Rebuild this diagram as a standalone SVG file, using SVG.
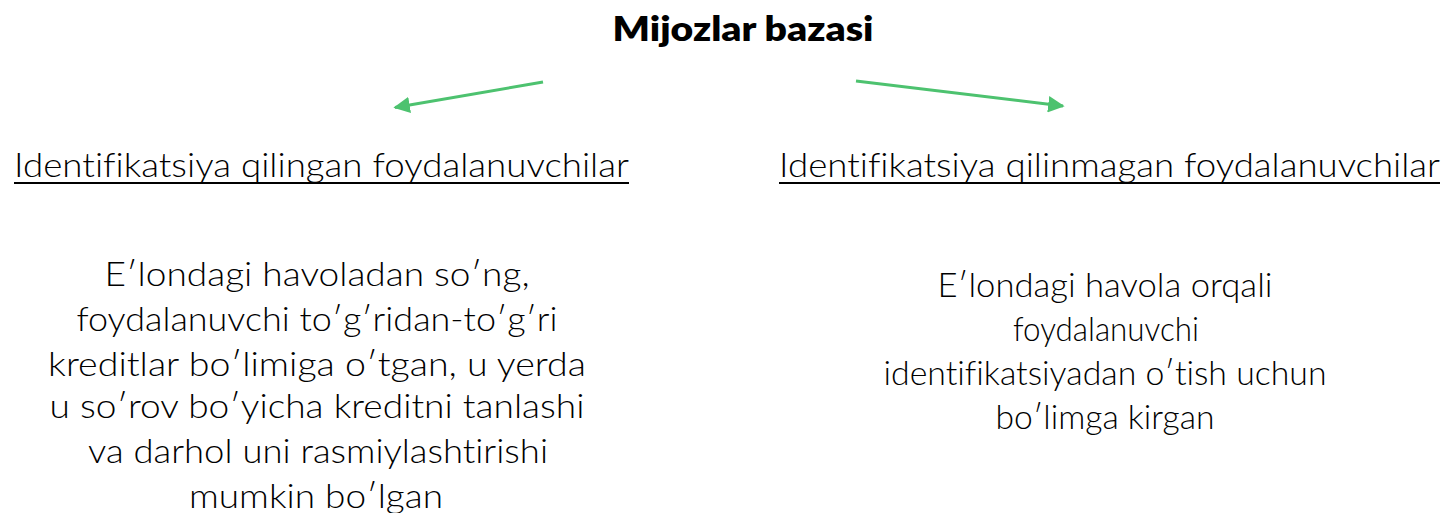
<svg xmlns="http://www.w3.org/2000/svg" width="1445" height="513" viewBox="0 0 1445 513">
<style>
text{font-family:Lato,"Noto Sans","Liberation Sans",sans-serif;fill:#000;text-anchor:middle;font-variant-ligatures:none}
.title{font-size:34px;font-weight:800}
.head{font-size:33px;font-weight:300;text-anchor:start}
.body{font-size:34px;font-weight:300}
.ul{stroke:#000;stroke-width:2}
.conn{stroke:#4dc26f;stroke-width:3;fill:none}
</style>
<defs>
<marker id="ah" viewBox="0 0 10 10" refX="9" refY="5" markerWidth="5.5" markerHeight="5.5" orient="auto" markerUnits="strokeWidth">
<path d="M0,0 L10,5 L0,10 z" fill="#4dc26f"/>
</marker>
</defs>
<rect width="1445" height="513" fill="#fff"/>
<g id="connectors">
<line class="conn" x1="543" y1="82" x2="395" y2="107.5" marker-end="url(#ah)"/>
<line class="conn" x1="856" y1="81" x2="1063" y2="106" marker-end="url(#ah)"/>
</g>
<g id="root">
<text class="title" x="743" y="41" textLength="261" lengthAdjust="spacingAndGlyphs">Mijozlar bazasi</text>
</g>
<g id="identified">
<text class="head" x="14" y="177" textLength="615" lengthAdjust="spacingAndGlyphs">Identifikatsiya qilingan foydalanuvchilar</text>
<line class="ul" x1="14" y1="183" x2="629" y2="183"/>
</g>
<g id="unidentified">
<text class="head" x="779" y="177" textLength="661" lengthAdjust="spacingAndGlyphs">Identifikatsiya qilinmagan foydalanuvchilar</text>
<line class="ul" x1="779" y1="183" x2="1440" y2="183"/>
</g>
<g id="identified-desc">
<text class="body" x="317" y="286" textLength="425" lengthAdjust="spacingAndGlyphs">E′londagi havoladan so′ng,</text>
<text class="body" x="317" y="331" textLength="481" lengthAdjust="spacingAndGlyphs">foydalanuvchi to′g′ridan-to′g′ri</text>
<text class="body" x="317" y="376" textLength="538" lengthAdjust="spacingAndGlyphs">kreditlar bo′limiga o′tgan, u yerda</text>
<text class="body" x="317" y="418" textLength="535" lengthAdjust="spacingAndGlyphs">u so′rov bo′yicha kreditni tanlashi</text>
<text class="body" x="318" y="463" textLength="460" lengthAdjust="spacingAndGlyphs">va darhol uni rasmiylashtirishi</text>
<text class="body" x="316" y="508" textLength="254" lengthAdjust="spacingAndGlyphs">mumkin bo′lgan</text>
</g>
<g id="unidentified-desc">
<text class="body" x="1105" y="297" textLength="335" lengthAdjust="spacingAndGlyphs">E′londagi havola orqali</text>
<text class="body" x="1106" y="341" textLength="186" lengthAdjust="spacingAndGlyphs">foydalanuvchi</text>
<text class="body" x="1105" y="385" textLength="443" lengthAdjust="spacingAndGlyphs">identifikatsiyadan o′tish uchun</text>
<text class="body" x="1105" y="429" textLength="219" lengthAdjust="spacingAndGlyphs">bo′limga kirgan</text>
</g>
</svg>
